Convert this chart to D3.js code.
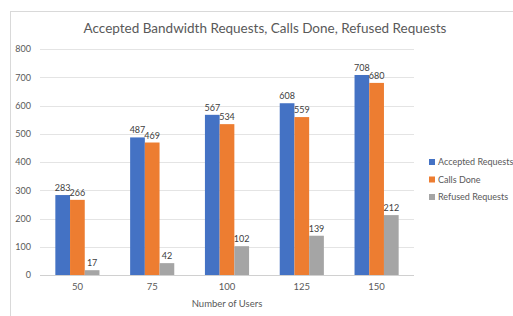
<!DOCTYPE html>
<html>
<head>
<meta charset="utf-8">
<script src="https://d3js.org/d3.v7.min.js"></script>
<style>
  body { margin: 0; background: #fff; }
  text { font-family: Lato, "Open Sans", sans-serif; }
</style>
</head>
<body>
<svg width=513 height=316></svg>

<script>
// chart data
var users = ['50', '75', '100', '125', '150'];
var seriesNames = ['Accepted Requests', 'Calls Done', 'Refused Requests'];
var accepted = [283, 487, 567, 608, 708];
var callsDone = [266, 469, 534, 559, 680];
var refused = [17, 42, 102, 139, 212];
var yTicks = [0, 100, 200, 300, 400, 500, 600, 700, 800];
var colors = ['#4472c4', '#ed7d31', '#a5a5a5'];

var seriesVals = [accepted, callsDone, refused];

var svg = d3.select('svg');

// outer chart border (runs off the right and bottom edges)
svg.append('rect')
  .attr('x', 10.5).attr('y', 11.5)
  .attr('width', 520).attr('height', 320)
  .attr('fill', 'none')
  .attr('stroke', '#d9d9d9');

var x = d3.scaleBand()
  .domain(users)
  .range([40, 414])
  .paddingInner(0.41)
  .paddingOuter(0.205);

var xs = d3.scaleBand()
  .domain(seriesNames)
  .range([0, x.bandwidth()]);

var y = d3.scaleLinear()
  .domain([0, 800])
  .range([275, 49]);

// gridlines
svg.append('g')
  .selectAll('line')
  .data(yTicks)
  .enter()
  .append('line')
    .attr('x1', 40).attr('x2', 414)
    .attr('y1', d => Math.round(y(d)) + 0.5)
    .attr('y2', d => Math.round(y(d)) + 0.5)
    .attr('stroke', d => d == 0 ? '#d0d0d0' : '#e4e4e4')
    .attr('stroke-width', 1);

// y axis labels
var yAxis = d3.axisLeft(y).tickValues(yTicks).tickSize(0).tickPadding(0);
svg.append('g')
  .attr('transform', 'translate(31,0)')
  .call(yAxis)
  .call(g => g.select('.domain').remove())
  .selectAll('text')
    .attr('font-size', 9)
    .attr('fill', '#595959')
    .attr('font-family', 'Lato, sans-serif');

// x axis labels
var xAxis = d3.axisBottom(x).tickSize(0).tickPadding(0);
svg.append('g')
  .attr('transform', 'translate(0,283)')
  .call(xAxis)
  .call(g => g.select('.domain').remove())
  .selectAll('text')
    .attr('font-size', 9.5)
    .attr('fill', '#595959')
    .attr('font-family', 'Lato, sans-serif');

// bars
var groups = svg.append('g')
  .selectAll('g')
  .data(seriesNames)
  .enter()
  .append('g')
    .attr('fill', (d, i) => colors[i]);

groups.selectAll('rect')
  .data((s, i) => seriesVals[i].map((v, j) => ({ s: s, cat: users[j], v: v })))
  .enter()
  .append('rect')
    .attr('x', d => x(d.cat) + xs(d.s))
    .attr('width', xs.bandwidth())
    .attr('y', d => y(d.v))
    .attr('height', d => y(0) - y(d.v));

// data labels
groups.selectAll('text')
  .data((s, i) => seriesVals[i].map((v, j) => ({ s: s, cat: users[j], v: v })))
  .enter()
  .append('text')
    .attr('x', d => x(d.cat) + xs(d.s) + xs.bandwidth() / 2)
    .attr('y', d => y(d.v) - 4)
    .attr('text-anchor', 'middle')
    .attr('font-size', 9)
    .attr('fill', '#404040')
    .text(d => d.v);

// title
svg.append('text')
  .attr('x', 265).attr('y', 33)
  .attr('text-anchor', 'middle')
  .attr('font-size', 13.5)
  .attr('fill', '#595959')
  .text('Accepted Bandwidth Requests, Calls Done, Refused Requests');

// x axis title
svg.append('text')
  .attr('x', 227).attr('y', 307)
  .attr('text-anchor', 'middle')
  .attr('font-size', 9.5)
  .attr('fill', '#595959')
  .text('Number  of Users');

// legend
var legend = svg.append('g')
  .selectAll('g')
  .data(seriesNames)
  .enter()
  .append('g')
    .attr('transform', (d, i) => 'translate(429,' + (159 + i * 17.5) + ')');

legend.append('rect')
  .attr('width', 6).attr('height', 6)
  .attr('fill', (d, i) => colors[i]);

legend.append('text')
  .attr('x', 9).attr('y', 6)
  .attr('font-size', 9)
  .attr('fill', '#595959')
  .text(d => d);
</script>
</body>
</html>
